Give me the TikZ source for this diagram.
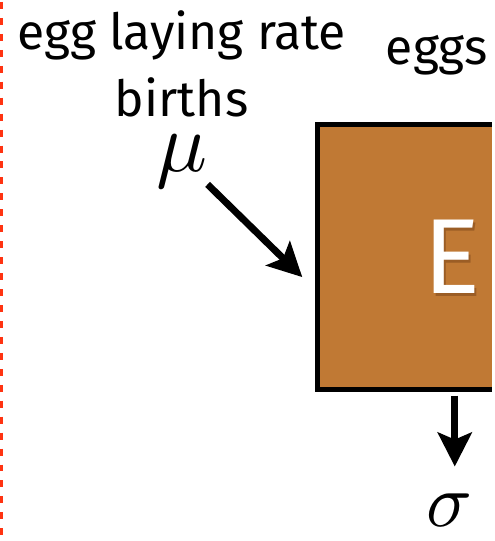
\documentclass[tikz,border=0pt]{standalone}
\usepackage{fontspec}
\usepackage{graphicx}
\setmainfont{Fira Sans}
\usetikzlibrary{arrows.meta}
\definecolor{boxfill}{RGB}{192,121,52}
\definecolor{boxshadow}{RGB}{110,60,20}
\definecolor{dashred}{RGB}{255,51,17}
\tikzset{
  lbl/.style={inner sep=0pt, anchor=base, font=\fontsize{50}{60}\selectfont},
  bigarrow/.style={line width=7pt, -{Stealth[length=34pt, width=34pt, inset=7pt]}},
  mathlbl/.style={inner sep=0pt}
}
\begin{document}
\begin{tikzpicture}[x=1pt,y=-1pt]
% red dashed boundary
\draw[dashred, line width=3.5pt, dash pattern=on 7pt off 9pt] (1.5,2) -- (1.5,541);
% labels
\node[lbl] (lblrate) at (182,50) {egg laying rate};
\node[lbl] (lblbirths) at (182,117) {births};
\node[lbl] (lbleggs) at (438,65) {eggs};
\node[mathlbl] (mu) at (182,162) {\scalebox{8.5}{$\mu$}};
% compartment box (continues past the right edge)
\coordinate (boxNW) at (318.5,124.5);
\coordinate (boxE) at (493,390.5);
\fill[boxfill] (316,122) rectangle (493,393);
\draw[line width=5pt] (493,124.5) -- (boxNW) |- (493,390.5);
\node[inner sep=0pt, text=boxshadow, opacity=0.45, font=\fontsize{107}{107}\selectfont] (eshadow) at (455.5,261) {E};
\node[inner sep=0pt, text=white, font=\fontsize{107}{107}\selectfont] (elbl) at (453,258) {E};
\node[mathlbl] (sigma) at (451,512) {\scalebox{7.6}{$\sigma$}};
% arrows
\coordinate (inS) at (208,185);
\coordinate (inE) at (303,278);
\draw[bigarrow] (inS) -- (inE);
\coordinate (outS) at (456,397);
\coordinate (outE) at (456,468);
\draw[bigarrow] (outS) -- (outE);
\useasboundingbox (0,0) rectangle (493,541);
\end{tikzpicture}
\end{document}
